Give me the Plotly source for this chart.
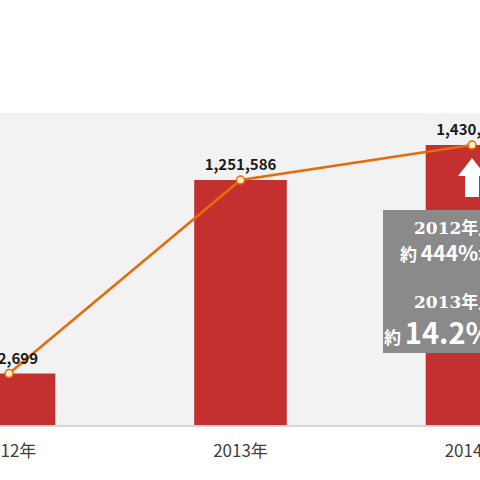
import plotly.graph_objects as go

# データ
years = ["2012年", "2013年", "2014年"]
users = [262699, 1251586, 1430194]
user_labels = ["262,699", "1,251,586", "1,430,194"]
note_lines = ["2012年比", "約 <span style='font-size:21px'><b>444%</b></span>増",
              "2013年比", "約 <span style='font-size:29px'><b>14.2%</b></span>増"]

BAR_COLOR = "#c3302f"
LINE_COLOR = "#e46c0a"
Y_MAX = 1594000


def y_from_px(px):
    """Convert a vertical pixel position of the picture into an axis value."""
    return (425 - px) * Y_MAX / 312


def x_from_px(px):
    """Convert a horizontal pixel position into an axis value."""
    return (px - 9) / 231.5


positions = list(range(len(years)))

fig = go.Figure()

fig.add_trace(
    go.Bar(
        x=positions,
        y=users,
        width=0.4,
        marker=dict(color=BAR_COLOR, line=dict(width=0)),
        hoverinfo="skip",
    )
)

fig.add_trace(
    go.Scatter(
        x=positions,
        y=users,
        mode="lines+markers+text",
        text=user_labels,
        textposition="top center",
        textfont=dict(family="Noto Sans CJK JP", size=15, color="#1a1a1a", weight="bold"),
        line=dict(color=LINE_COLOR, width=2.5),
        marker=dict(size=8, color="#fdebc8", line=dict(color=LINE_COLOR, width=1.5)),
        cliponaxis=False,
    )
)

# 白い上向き矢印 (2014年の棒の中)
cx = 2.0
tip, head, foot = y_from_px(158), y_from_px(176), y_from_px(197)
hw, sw = 14 / 231.5, 7 / 231.5
arrow_path = (
    f"M {cx} {tip} L {cx + hw} {head} L {cx + sw} {head} L {cx + sw} {foot} "
    f"L {cx - sw} {foot} L {cx - sw} {head} L {cx - hw} {head} Z"
)
fig.add_shape(type="path", path=arrow_path, xref="x", yref="y",
              fillcolor="white", line=dict(width=0))

# 灰色の注記ボックス
fig.add_shape(type="rect", xref="x", yref="y",
              x0=x_from_px(383), x1=2.3, y0=y_from_px(353), y1=y_from_px(210),
              fillcolor="#8a8a8a", line=dict(width=0))

note_y = [228, 252, 302, 331]
note_x = [454, 447, 454, 447]
note_fonts = [
    dict(family="DejaVu Serif, Noto Sans CJK JP", size=17, color="white", weight="bold"),
    dict(family="Noto Sans CJK JP", size=17, color="white", weight="bold"),
    dict(family="DejaVu Serif, Noto Sans CJK JP", size=17, color="white", weight="bold"),
    dict(family="Noto Sans CJK JP", size=17, color="white", weight="bold"),
]
for line_text, px, py, font in zip(note_lines, note_x, note_y, note_fonts):
    fig.add_annotation(x=x_from_px(px), y=y_from_px(py), xref="x", yref="y",
                       text=line_text, showarrow=False, font=font,
                       xanchor="center", yanchor="middle")

fig.update_layout(
    width=480,
    height=480,
    margin=dict(l=0, r=0, t=113, b=55, autoexpand=False),
    paper_bgcolor="white",
    plot_bgcolor="#f2f2f2",
    showlegend=False,
    xaxis=dict(
        range=[x_from_px(0), x_from_px(480)],
        tickvals=positions,
        ticktext=years,
        tickfont=dict(family="Noto Sans CJK JP", size=17, color="#404040"),
        ticklabelstandoff=10,
        ticklabeloverflow="allow",
        automargin=False,
        showgrid=False,
        zeroline=False,
        showline=True,
        linecolor="#d6d6d6",
        linewidth=2,
    ),
    yaxis=dict(
        range=[0, Y_MAX],
        visible=False,
        showgrid=False,
    ),
)

fig.write_html(
    "out.html",
    config={"displayModeBar": False},
    post_script="document.body.style.margin='0';",
)
